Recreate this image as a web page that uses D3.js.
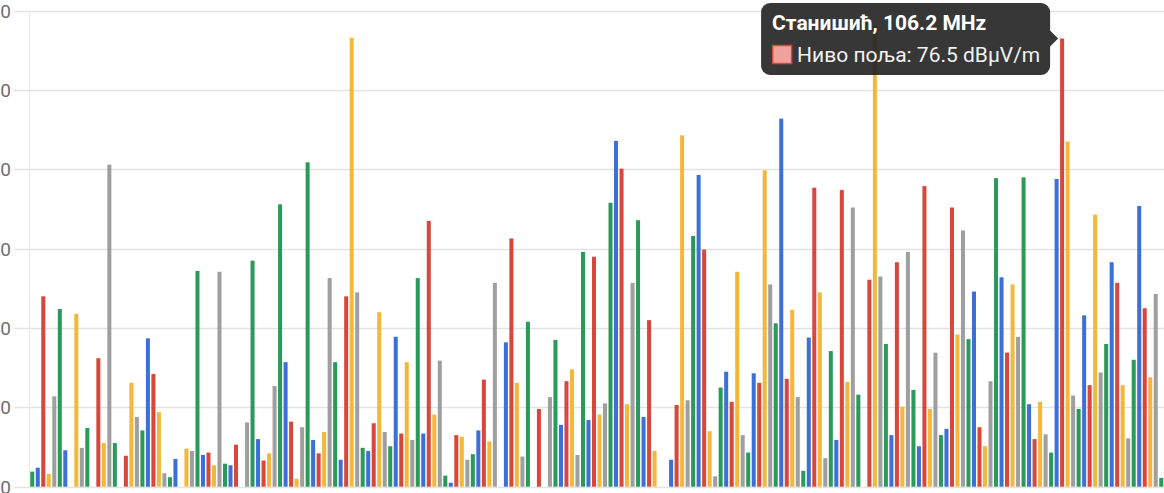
<!DOCTYPE html>
<html>
<head>
<meta charset="utf-8">
<script src="https://cdn.jsdelivr.net/npm/d3@7"></script>
<style>
    html, body { margin: 0; padding: 0; background: #fff; overflow: hidden; }
    svg { display: block; font-family: Roboto, "Noto Sans", sans-serif; }
</style>
</head>
<body>
<div id="chart"></div>
<script>
// Field level per measurement (dBuV/m), one value per column, null = no measurement.
var levels = [
    21.9, 22.4, 44.0, 21.6, 31.4, 42.4, 24.6, null, 41.8, 24.9,
    27.4, null, 36.2, 25.5, 60.6, 25.5, null, 23.9, 33.1, 28.8,
    27.1, 38.7, 34.2, 29.4, 21.7, 21.2, 23.5, null, 24.8, 24.5,
    47.2, 24.0, 24.3, 22.7, 47.1, 22.9, 22.7, 25.3, null, 28.1,
    48.5, 26.0, 23.3, 24.2, 32.7, 55.6, 35.7, 28.2, 21.0, 27.5,
    60.9, 25.9, 24.2, 26.9, 46.3, 35.7, 23.4, 44.0, 76.6, 44.5,
    24.9, 24.5, 28.0, 42.0, 26.9, 25.1, 38.9, 26.7, 35.7, 25.9,
    46.3, 26.7, 53.5, 29.1, 35.9, 21.4, 20.5, 26.5, 26.3, 23.4,
    24.1, 27.1, 33.5, 25.7, 45.7, null, 38.2, 51.3, 33.1, 23.8,
    40.8, null, 29.8, null, 31.3, 38.5, 27.8, 33.3, 34.8, 24.0,
    49.6, 28.4, 49.0, 29.1, 30.5, 55.8, 63.6, 60.1, 30.4, 45.7,
    53.6, 28.8, 41.0, 24.5, null, null, 23.4, 30.3, 64.3, 30.9,
    51.6, 59.3, 49.9, 27.0, 21.3, 32.5, 34.5, 30.7, 47.1, 26.5,
    24.3, 34.3, 33.1, 59.9, 45.5, 40.6, 66.4, 33.6, 42.3, 31.3,
    22.0, 38.8, 57.7, 44.5, 23.6, 37.1, 25.9, 57.4, 33.2, 55.2,
    31.6, null, 46.1, 78.1, 46.5, 38.0, 26.5, 48.3, 30.1, 49.6,
    32.2, 25.1, 57.9, 29.8, 36.9, 26.5, 27.3, 55.2, 39.2, 52.3,
    38.6, 44.6, 27.5, 25.1, 33.3, 58.9, 46.4, 36.9, 45.5, 38.9,
    59.0, 30.4, 26.0, 30.7, 26.6, 24.3, 58.8, 76.5, 63.5, 31.5,
    29.8, 41.6, 32.8, 54.3, 34.4, 38.0, 48.3, 45.7, 32.8, 26.1,
    36.0, 55.4, 42.5, 33.8, 44.3, 21.1
];
var columns = d3.range(levels.length);
var palette = ['#2a9a5b', '#3c70d8', '#d8463c', '#f4b73a', '#9f9f9f'];
var yTicks = [20, 30, 40, 50, 60, 70, 80];

// Hovered column shown in the tooltip.
var hoverIndex = 187;
var hoverTitle = 'Станишић, 106.2 MHz';
var hoverLabel = 'Ниво поља';
var hoverUnit = 'dBµV/m';

var width = 1164,
    height = 493,
    plotLeft = 29.5,
    gridLeft = 14;

var svg = d3.select('#chart').append('svg')
    .attr('width', width)
    .attr('height', height);

var x = d3.scaleBand()
    .domain(columns)
    .range([plotLeft, width])
    .paddingInner(0.27)
    .paddingOuter(0.135);

var y = d3.scaleLinear()
    .domain([20, 80])
    .range([486.7, 10.8]);

// Gridlines
svg.append('g').attr('class', 'grid')
    .selectAll('line')
    .data(yTicks).enter().append('line')
    .attr('x1', gridLeft)
    .attr('x2', width)
    .attr('y1', function (d) { return Math.round(y(d)) + 0.5; })
    .attr('y2', function (d) { return Math.round(y(d)) + 0.5; })
    .attr('stroke', '#e3e3e3')
    .attr('stroke-width', 1.5);

svg.append('line')
    .attr('x1', plotLeft).attr('x2', plotLeft)
    .attr('y1', y(80)).attr('y2', y(20))
    .attr('stroke', '#e6eceb')
    .attr('stroke-width', 1.2);

// Columns
svg.append('g').attr('class', 'bars')
    .selectAll('rect')
    .data(columns.filter(function (i) { return levels[i] !== null; }))
    .enter().append('rect')
    .attr('x', function (i) { return x(i); })
    .attr('width', x.bandwidth())
    .attr('y', function (i) { return y(levels[i]); })
    .attr('height', function (i) { return y(20) - y(levels[i]); })
    .attr('fill', function (i) { return palette[i % palette.length]; });

// Vertical axis labels (partly outside the view on the left)
svg.append('g').attr('class', 'y-axis')
    .selectAll('text')
    .data(yTicks).enter().append('text')
    .attr('x', 11)
    .attr('y', function (d) { return y(d); })
    .attr('dy', '0.36em')
    .attr('text-anchor', 'end')
    .attr('font-size', 19)
    .attr('fill', '#6f6f6f')
    .text(function (d) { return d; });

// Tooltip
var tipX = x(hoverIndex) - 2,
    tipY = y(levels[hoverIndex]),
    boxRight = tipX - 8,
    boxLeft = boxRight - 289,
    boxTop = 3,
    boxBottom = 75,
    r = 9;

var tip = svg.append('g').attr('class', 'tooltip');

var boxPath = d3.path();
boxPath.moveTo(boxLeft + r, boxTop);
boxPath.lineTo(boxRight - r, boxTop);
boxPath.arcTo(boxRight, boxTop, boxRight, boxTop + r, r);
boxPath.lineTo(boxRight, tipY - 8);
boxPath.lineTo(tipX, tipY);
boxPath.lineTo(boxRight, tipY + 8);
boxPath.lineTo(boxRight, boxBottom - r);
boxPath.arcTo(boxRight, boxBottom, boxRight - r, boxBottom, r);
boxPath.lineTo(boxLeft + r, boxBottom);
boxPath.arcTo(boxLeft, boxBottom, boxLeft, boxBottom - r, r);
boxPath.lineTo(boxLeft, boxTop + r);
boxPath.arcTo(boxLeft, boxTop, boxLeft + r, boxTop, r);
boxPath.closePath();

tip.append('path')
    .attr('d', boxPath.toString())
    .attr('fill', '#212121')
    .attr('fill-opacity', 0.9);

tip.append('text')
    .attr('x', boxLeft + 11)
    .attr('y', 29.5)
    .attr('font-size', 21)
    .attr('font-weight', 'bold')
    .attr('fill', '#ffffff')
    .text(hoverTitle);

tip.append('rect')
    .attr('x', boxLeft + 11.5)
    .attr('y', 45.5)
    .attr('width', 19)
    .attr('height', 18)
    .attr('fill', '#f0a29c')
    .attr('stroke', palette[hoverIndex % palette.length])
    .attr('stroke-width', 1.5);

tip.append('text')
    .attr('x', boxLeft + 36)
    .attr('y', 61.5)
    .attr('font-size', 21)
    .attr('fill', '#f2f2f2')
    .text(hoverLabel + ': ' + levels[hoverIndex] + ' ' + hoverUnit);
</script>
</body>
</html>
